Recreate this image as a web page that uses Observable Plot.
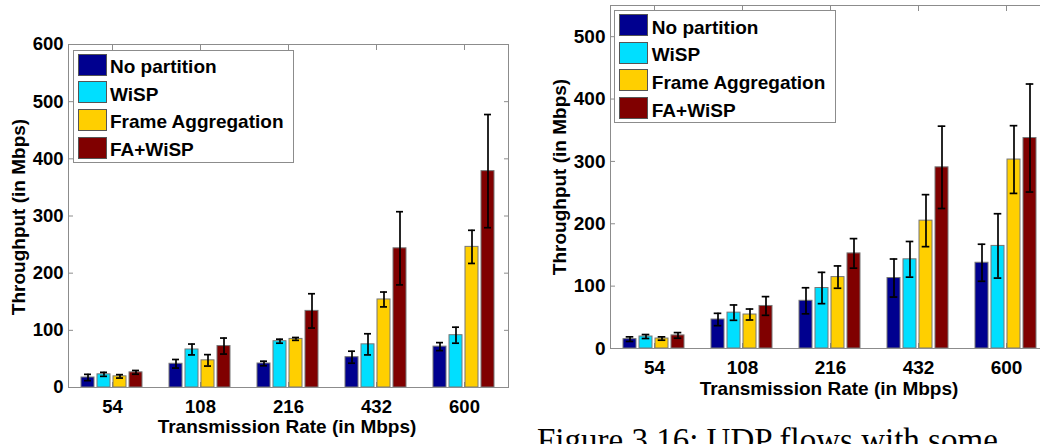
<!DOCTYPE html>
<html>
<head>
<meta charset="utf-8">
<script src="https://cdn.jsdelivr.net/npm/d3@7"></script>
<script src="https://cdn.jsdelivr.net/npm/@observablehq/plot@0.6"></script>
<style>
html, body { margin: 0; padding: 0; background: #fff; overflow: hidden; }
body { width: 1045px; height: 444px; position: relative; font-family: "Liberation Sans", Arial, sans-serif; }
.panel { position: absolute; top: 0; height: 444px; overflow: hidden; }
.panel svg { max-width: none !important; }
.title { position: absolute; font-weight: bold; font-size: 19px; line-height: 19px; white-space: nowrap; color: #000; transform: translate(-50%, -50%); }
.ytitle { transform: translate(-50%, -50%) rotate(-90deg); }
.legend { position: absolute; background: #fff; border: 1px solid #8c8c8c; box-sizing: border-box; padding: 3px 0 0 4px; }
.row { display: flex; align-items: center; height: 22px; margin-bottom: 5.7px; }
.sw { width: 29px; height: 22px; box-sizing: border-box; border: 1px solid #555; flex: none; }
.lab { font-weight: bold; font-size: 19px; line-height: 22px; margin-left: 3.5px; position: relative; top: 2.5px; white-space: nowrap; }
.caption { position: absolute; left: 537px; top: 424px; font-family: "Liberation Serif", "DejaVu Serif", serif; font-size: 33px; line-height: 33px; white-space: nowrap; color: #000; }
</style>
</head>
<body>
<script>
// ---- data ----
const rates = ["54", "108", "216", "432", "600"];
const series = ["No partition", "WiSP", "Frame Aggregation", "FA+WiSP"];
const colors = ["#00008F", "#00DFFF", "#FFCF00", "#800000"];

// left chart (means and error half-widths)
const noPartA = [17.5, 41.5, 42, 53, 71.5];
const wispA = [23, 66.5, 81, 75.5, 91.5];
const faA = [19.5, 47.5, 85, 154, 246];
const faWispA = [26.5, 72.5, 134, 243.5, 378.5];
const noPartAErr = [5.5, 7.5, 4, 10.5, 7];
const wispAErr = [3.5, 9.5, 3.5, 18.5, 14];
const faAErr = [3, 10, 2.5, 13, 29];
const faWispAErr = [3.3, 14, 30, 64, 99];
const yTicksA = [0, 100, 200, 300, 400, 500, 600];

// right chart
const noPartB = [15, 46.5, 76.5, 113, 137.5];
const wispB = [19.2, 57.5, 97, 143, 164.5];
const faB = [16, 54.5, 114.5, 205, 303];
const faWispB = [21, 68.2, 152.5, 290.5, 337.5];
const noPartBErr = [3.7, 9.9, 20.9, 30.5, 29.7];
const wispBErr = [3.2, 12.3, 25.1, 28.6, 51.6];
const faBErr = [2.7, 8.8, 17.9, 41.7, 54.3];
const faWispBErr = [4.5, 15, 23.7, 66, 86.6];
const yTicksB = [0, 100, 200, 300, 400, 500];

const xTitle = "Transmission Rate (in Mbps)";
const yTitle = "Throughput (in Mbps)";
const captionText = "Figure 3.16: UDP flows with some";

function buildRows(means, errs) {
  const rows = [];
  rates.forEach((r, i) => series.forEach((s, j) => rows.push({rate: r, series: s, value: means[j][i], err: errs[j][i]})));
  return rows;
}

function makeChart({data, yMax, yTicks, marginLeft, marginTop, marginBottom, width, fontSize, capInset}) {
  const gray = "#8c8c8c";
  const noText = () => "";
  return Plot.plot({
    width, height: 444, marginLeft, marginTop, marginBottom, marginRight: 10,
    style: {fontFamily: '"Liberation Sans", Arial, sans-serif', fontSize: fontSize + "px", fontWeight: "bold", color: "#000", background: "transparent", overflow: "visible", maxWidth: "none"},
    fx: {domain: rates, paddingInner: 0, paddingOuter: 0, label: null},
    x: {domain: series, paddingInner: 0.17, paddingOuter: 0.835, axis: null},
    y: {domain: [0, yMax]},
    color: {domain: series, range: colors},
    marks: [
      Plot.axisFx({anchor: "bottom", tickSize: 0, tickPadding: 12, label: null}),
      Plot.axisFx({anchor: "top", tickSize: -5, tickFormat: noText, label: null, stroke: gray}),
      Plot.axisFx({anchor: "bottom", tickSize: -5, tickFormat: noText, label: null, stroke: gray}),
      Plot.axisY({anchor: "left", ticks: yTicks, tickSize: 0, tickPadding: 5, label: null}),
      Plot.axisY({anchor: "left", ticks: yTicks, tickSize: -5, tickFormat: noText, label: null, stroke: gray}),
      Plot.axisY({anchor: "right", ticks: yTicks, tickSize: -5, tickFormat: noText, label: null, stroke: gray}),
      Plot.barY(data, {fx: "rate", x: "series", y: "value", fill: "series", stroke: "#777", strokeWidth: 1}),
      Plot.ruleX(data, {fx: "rate", x: "series", y1: d => d.value - d.err, y2: d => d.value + d.err, stroke: "#000", strokeWidth: 1.7}),
      Plot.tickY(data, {fx: "rate", x: "series", y: d => d.value + d.err, inset: capInset, stroke: "#000", strokeWidth: 1.7}),
      Plot.tickY(data, {fx: "rate", x: "series", y: d => d.value - d.err, inset: capInset, stroke: "#000", strokeWidth: 1.7}),
      Plot.frame({facet: "super", stroke: gray})
    ]
  });
}

function addPanel(left, clipWidth, chart) {
  const div = document.createElement("div");
  div.className = "panel";
  div.style.left = left + "px";
  div.style.width = clipWidth + "px";
  div.appendChild(chart);
  document.body.appendChild(div);
}

function addText(cls, text, cx, cy) {
  const d = document.createElement("div");
  d.className = cls;
  d.textContent = text;
  d.style.left = cx + "px";
  d.style.top = cy + "px";
  document.body.appendChild(d);
}

function addLegend(left, top, width, height) {
  const lg = document.createElement("div");
  lg.className = "legend";
  lg.style.left = left + "px";
  lg.style.top = top + "px";
  lg.style.width = width + "px";
  lg.style.height = height + "px";
  series.forEach((s, i) => {
    const row = document.createElement("div");
    row.className = "row";
    const sw = document.createElement("div");
    sw.className = "sw";
    sw.style.background = colors[i];
    const lab = document.createElement("span");
    lab.className = "lab";
    lab.textContent = s;
    row.appendChild(sw);
    row.appendChild(lab);
    lg.appendChild(row);
  });
  document.body.appendChild(lg);
}

const dataA = buildRows([noPartA, wispA, faA, faWispA], [noPartAErr, wispAErr, faAErr, faWispAErr]);
const dataB = buildRows([noPartB, wispB, faB, faWispB], [noPartBErr, wispBErr, faBErr, faWispBErr]);

addPanel(0, 518, makeChart({data: dataA, yMax: 600, yTicks: yTicksA, marginLeft: 68, marginTop: 44, marginBottom: 57, width: 518, fontSize: 18.5, capInset: 3}));
addPanel(525, 515, makeChart({data: dataB, yMax: 550, yTicks: yTicksB, marginLeft: 85, marginTop: 5, marginBottom: 96, width: 535, fontSize: 19, capInset: 2.7}));

addText("title", xTitle, 287, 426);
addText("title ytitle", yTitle, 17.5, 217);
addText("title", xTitle, 829, 387.5);
addText("title ytitle", yTitle, 559, 177);

addLegend(72.5, 49.5, 221, 113);
addLegend(614.3, 10, 221.4, 113.3);

const cap = document.createElement("div");
cap.className = "caption";
cap.textContent = captionText;
document.body.appendChild(cap);
</script>
</body>
</html>
